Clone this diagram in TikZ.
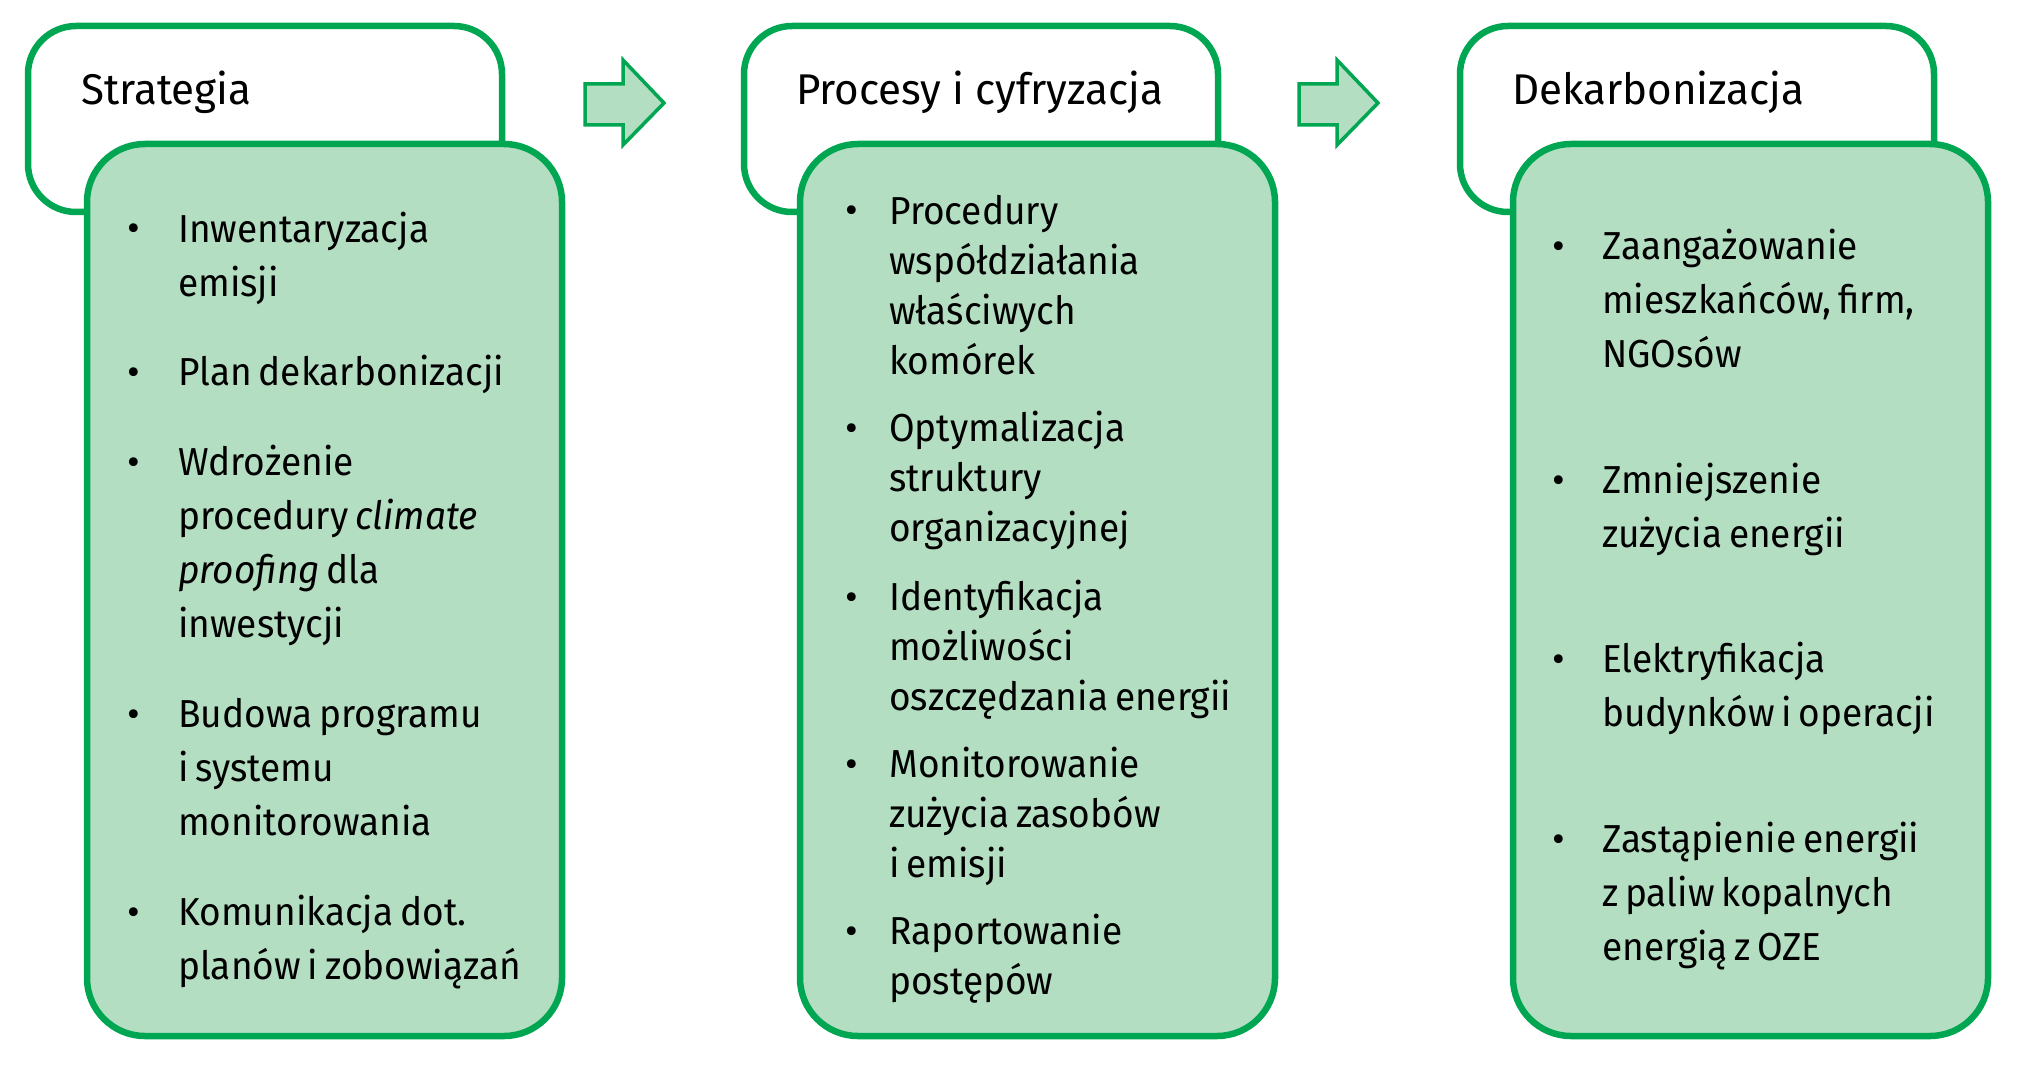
\documentclass[tikz,border=0pt]{standalone}
\usepackage{fontspec}
\setmainfont{Fira Sans}
\newfontfamily\bodyfont{Fira Sans}[FakeStretch=0.95,WordSpace=0.7]
\newfontfamily\headfont{Fira Sans}[FakeStretch=0.98]
\definecolor{gline}{RGB}{0,166,81}
\definecolor{gfill}{RGB}{180,222,193}
\begin{document}
\begin{tikzpicture}[x=1pt,y=-1pt,
  headbox/.style={draw=gline,fill=white,line width=6.5pt,rounded corners=48pt,
    minimum width=474pt,minimum height=186pt,anchor=north west,inner sep=0pt,outer sep=0pt},
  bodybox/.style={draw=gline,fill=gfill,line width=6.5pt,rounded corners=58pt,
    minimum width=475pt,minimum height=892pt,anchor=north west,inner sep=0pt,outer sep=0pt},
  flowarrow/.style={draw=gline,fill=gfill,line width=3.5pt},
  titletext/.style={anchor=base west,inner sep=0pt,font=\headfont\fontsize{43}{52}\selectfont},
  itemA/.style={anchor=base west,inner sep=0pt,align=left,font=\bodyfont\fontsize{39}{54}\selectfont},
  itemB/.style={anchor=base west,inner sep=0pt,align=left,font=\bodyfont\fontsize{39}{50}\selectfont},
  bul/.style={anchor=base,inner sep=0pt,font=\fontsize{39}{54}\selectfont}]
\useasboundingbox (0,0) rectangle (2017,1067);
% boxes
\node[headbox] (h1) at (28,26) {};
\node[headbox] (h2) at (744,26) {};
\node[headbox] (h3) at (1460,26) {};
\node[bodybox] (g1) at (87,144) {};
\node[bodybox] (g2) at (800,144) {};
\node[bodybox] (g3) at (1513,144) {};
% arrows
\draw[flowarrow] (585,84) -- (623,84) -- (623,60) -- (664,103) -- (623,145) -- (623,125) -- (585,125) -- cycle;
\draw[flowarrow] (1299,84) -- (1337,84) -- (1337,60) -- (1378,103) -- (1337,145) -- (1337,125) -- (1299,125) -- cycle;
% titles
\node[titletext] (t1) at (81,105) {Strategia};
\node[titletext] (t2) at (796,105) {Procesy i cyfryzacja};
\node[titletext] (t3) at (1512,105) {Dekarbonizacja};
% column 1 (first baseline / last baseline / text)
\foreach \yy/\zz/\tt [count=\i] in {242/296/{Inwentaryzacja\\emisji},
  385/385/{Plan dekarbonizacji},
  475/637/{Wdrożenie\\procedury \textit{climate}\\\textit{proofing} dla\\inwestycji},
  727/835/{Budowa programu\\i systemu\\monitorowania},
  925/979/{Komunikacja dot.\\planów i zobowiązań}}{
  \node[bul] (b1\i) at (134,\yy) {•};
  \node[itemA] (a1\i) at (178,\zz) {\tt};
}
% column 2
\foreach \yy/\zz/\tt [count=\i] in {224/374/{Procedury\\współdziałania\\właściwych\\komórek},
  441/541/{Optymalizacja\\struktury\\organizacyjnej},
  610/710/{Identyfikacja\\możliwości\\oszczędzania energii},
  777/877/{Monitorowanie\\zużycia zasobów\\i emisji},
  944/994/{Raportowanie\\postępów}}{
  \node[bul] (b2\i) at (852,\yy) {•};
  \node[itemB] (a2\i) at (889,\zz) {\tt};
}
% column 3
\foreach \yy/\zz/\tt [count=\i] in {259/367/{Zaangażowanie\\mieszkańców, firm,\\NGOsów},
  493/547/{Zmniejszenie\\zużycia energii},
  672/726/{Elektryfikacja\\budynków i operacji},
  852/960/{Zastąpienie energii\\z paliw kopalnych\\energią z OZE}}{
  \node[bul] (b3\i) at (1559,\yy) {•};
  \node[itemA] (a3\i) at (1602,\zz) {\tt};
}
\end{tikzpicture}
\end{document}
